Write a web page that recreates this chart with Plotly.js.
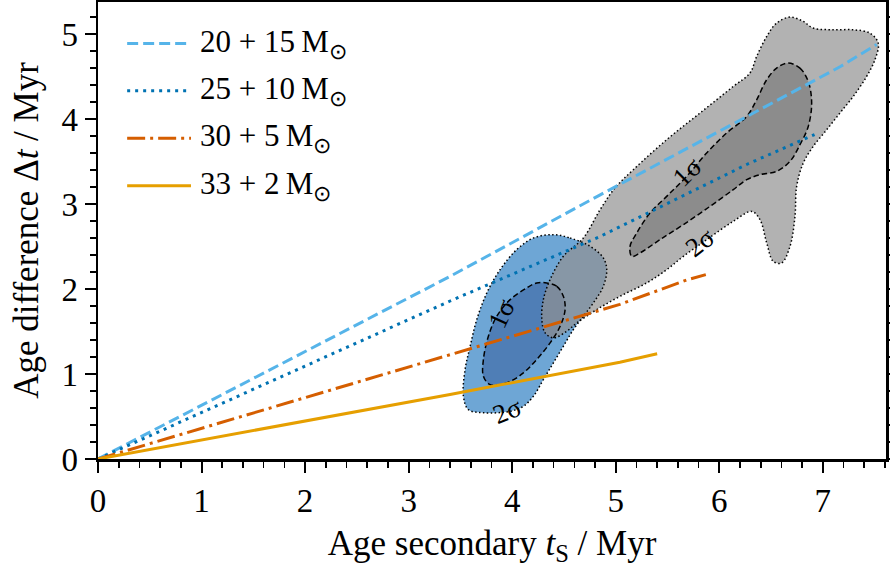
<!DOCTYPE html>
<html><head><meta charset="utf-8">
<script src="https://cdn.plot.ly/plotly-3.0.1.min.js"></script>
<style>html,body{margin:0;padding:0;background:#fff}#chart{width:890px;height:567px}</style>
</head><body><div id="chart"></div>
<script>
// ---- model tracks (age secondary vs age difference, Myr) ----
const trackNames = ['20 + 15\u2009M<sub>\u2299</sub>', '25 + 10\u2009M<sub>\u2299</sub>', '30 + 5\u2009M<sub>\u2299</sub>', '33 + 2\u2009M<sub>\u2299</sub>'];
const track1X = [0, 3.40, 4.85, 7.17, 7.52];
const track1Y = [0, 2.15, 3.11, 4.62, 4.88];
const track2X = [0, 3.40, 4.85, 6.27, 6.92];
const track2Y = [0, 1.86, 2.62, 3.47, 3.82];
const track3X = [0, 3.40, 5.04, 5.69, 5.87];
const track3Y = [0, 1.23, 1.82, 2.11, 2.17];
const track4X = [0, 3.40, 5.04, 5.40];
const track4Y = [0, 0.76, 1.14, 1.24];

// ---- KDE contours (blue and grey systems) ----
const blue2X = [4.398,4.559,4.752,4.880,4.913,4.880,4.784,4.687,4.591,4.494,4.398,4.301,4.205,4.108,3.980,3.722,3.577,3.529,3.545,3.594,3.658,3.755,3.883,4.044,4.205];
const blue2Y = [2.641,2.602,2.504,2.367,2.229,2.033,1.838,1.680,1.524,1.327,1.132,0.935,0.739,0.621,0.562,0.544,0.582,0.739,1.053,1.327,1.641,1.955,2.229,2.465,2.602];
const blue1X = [4.334,4.431,4.494,4.511,4.463,4.366,4.237,4.108,3.948,3.787,3.722,3.722,3.770,3.851,3.980,4.141,4.237];
const blue1Y = [2.073,2.033,1.915,1.759,1.562,1.367,1.171,1.014,0.896,0.876,0.974,1.171,1.445,1.680,1.876,2.014,2.073];
const grey2X = [4.286,4.301,4.366,4.494,4.687,4.849,4.993,5.170,5.492,5.814,6.135,6.296,6.361,6.458,6.554,6.683,6.811,6.907,7.100,7.293,7.454,7.535,7.503,7.423,7.293,7.165,7.037,6.907,6.811,6.747,6.731,6.683,6.602,6.521,6.458,6.393,6.313,6.135,5.878,5.653,5.492,5.299,5.041,4.817,4.624,4.527,4.398,4.318];
const grey2Y = [1.641,1.876,2.112,2.386,2.602,2.935,3.191,3.406,3.759,4.073,4.386,4.544,4.739,4.974,5.132,5.202,5.151,5.073,5.053,5.053,5.014,4.896,4.700,4.504,4.268,4.073,3.876,3.680,3.485,3.209,2.856,2.504,2.308,2.327,2.544,2.818,2.915,2.798,2.582,2.386,2.229,2.073,1.915,1.759,1.602,1.504,1.426,1.485];
const grey1X = [6.666,6.779,6.859,6.892,6.859,6.779,6.683,6.554,6.393,6.265,6.135,5.910,5.653,5.427,5.234,5.154,5.138,5.203,5.331,5.492,5.685,5.878,6.071,6.265,6.361,6.458,6.554];
const grey1Y = [4.661,4.602,4.445,4.191,3.915,3.700,3.504,3.386,3.347,3.288,3.171,2.974,2.759,2.582,2.426,2.386,2.504,2.661,2.896,3.092,3.327,3.602,3.838,4.033,4.229,4.465,4.602];

// contour labels
const labelText = ['1\u03c3', '2\u03c3', '1\u03c3', '2\u03c3'];
const labelX = [3.90, 3.95, 5.69, 5.82];
const labelY = [1.72, 0.57, 3.38, 2.55];
const labelAngle = [-65, -22, -45, -38];

function closed(a){ return a.concat([a[0]]); }

const traces = [];
// fills
traces.push({x: closed(blue2X), y: closed(blue2Y), mode:'lines', fill:'toself', fillcolor:'#6ea6d5', line:{width:0, shape:'spline', smoothing:1}, hoverinfo:'skip', showlegend:false});
traces.push({x: closed(blue1X), y: closed(blue1Y), mode:'lines', fill:'toself', fillcolor:'#4f7eb6', line:{width:0, shape:'spline', smoothing:1}, hoverinfo:'skip', showlegend:false});
traces.push({x: closed(grey2X), y: closed(grey2Y), mode:'lines', fill:'toself', fillcolor:'rgba(146,146,146,0.7)', line:{width:0, shape:'spline', smoothing:1}, hoverinfo:'skip', showlegend:false});
traces.push({x: closed(grey1X), y: closed(grey1Y), mode:'lines', fill:'toself', fillcolor:'#8c8c8c', line:{width:0, shape:'spline', smoothing:1}, hoverinfo:'skip', showlegend:false});
// outlines
[[blue2X,blue2Y,'dot'],[grey2X,grey2Y,'dot'],[blue1X,blue1Y,'dash'],[grey1X,grey1Y,'dash']].forEach(function(c){
  traces.push({x: closed(c[0]), y: closed(c[1]), mode:'lines', line:{color:'#000', width:1.5, dash: c[2]==='dot' ? '1.5px,2.4px' : '5.5px,3px', shape:'spline', smoothing:1}, hoverinfo:'skip', showlegend:false});
});
// tracks
const trackStyles = [
  {color:'#56B4E9', dash:'11px,5px'},
  {color:'#0072B2', dash:'3px,5px'},
  {color:'#D55E00', dash:'18px,5px,3px,5px'},
  {color:'#E69F00', dash:'solid'}
];
const trackX = [track1X, track2X, track3X, track4X];
const trackY = [track1Y, track2Y, track3Y, track4Y];
for (let i = 0; i < 4; i++) {
  traces.push({x: trackX[i], y: trackY[i], mode:'lines', name: trackNames[i],
    line:{color: trackStyles[i].color, width:3, dash: trackStyles[i].dash}, showlegend:false});
}

// custom legend (long line samples like the reference)
const legRowY = [0.909, 0.806, 0.702, 0.598];
const shapes = [];
const annotations = [];
for (let i = 0; i < 4; i++) {
  shapes.push({type:'line', xref:'paper', yref:'paper', x0:0.037, x1:0.118, y0:legRowY[i], y1:legRowY[i],
    line:{color: trackStyles[i].color, width:3, dash: trackStyles[i].dash}});
  annotations.push({xref:'paper', yref:'paper', x:0.127, y:legRowY[i], xanchor:'left', yanchor:'middle',
    text: trackNames[i], showarrow:false, font:{family:'Liberation Serif, Times New Roman, serif', size:31, color:'#000'}});
}
for (let i = 0; i < labelText.length; i++) {
  annotations.push({x: labelX[i], y: labelY[i], text: labelText[i], showarrow:false, textangle: labelAngle[i],
    font:{family:'Liberation Serif, serif', size:27, color:'#000'}});
}

const axisCommon = {
  showline:true, linecolor:'#000', linewidth:2.5, mirror:'allticks',
  ticks:'outside', ticklen:11, tickwidth:2, tickcolor:'#000',
  showgrid:false, zeroline:false,
  tickfont:{family:'Liberation Serif, serif', size:33, color:'#000'},
  minor:{ticks:'outside', ticklen:6, tickwidth:1.6, tickcolor:'#000', dtick:0.2, showgrid:false}
};
const layout = {
  width:890, height:567,
  margin:{l:98, r:4, t:2, b:107.5},
  paper_bgcolor:'#fff', plot_bgcolor:'#fff',
  showlegend:false,
  font:{family:'Liberation Serif, serif', color:'#000'},
  xaxis: Object.assign({}, axisCommon, {range:[0, 7.61], dtick:1, tick0:0,
    title:{text:'Age secondary <i>t</i><sub>S</sub> / Myr', font:{size:35, color:'#000'}, standoff:14}}),
  yaxis: Object.assign({}, axisCommon, {range:[0, 5.38], dtick:1, tick0:0,
    title:{text:'Age difference \u0394<i>t</i> / Myr', font:{size:35, color:'#000'}, standoff:12}}),
  shapes: shapes,
  annotations: annotations
};
Plotly.newPlot('chart', traces, layout, {displayModeBar:false, staticPlot:true});
</script>
</body></html>
